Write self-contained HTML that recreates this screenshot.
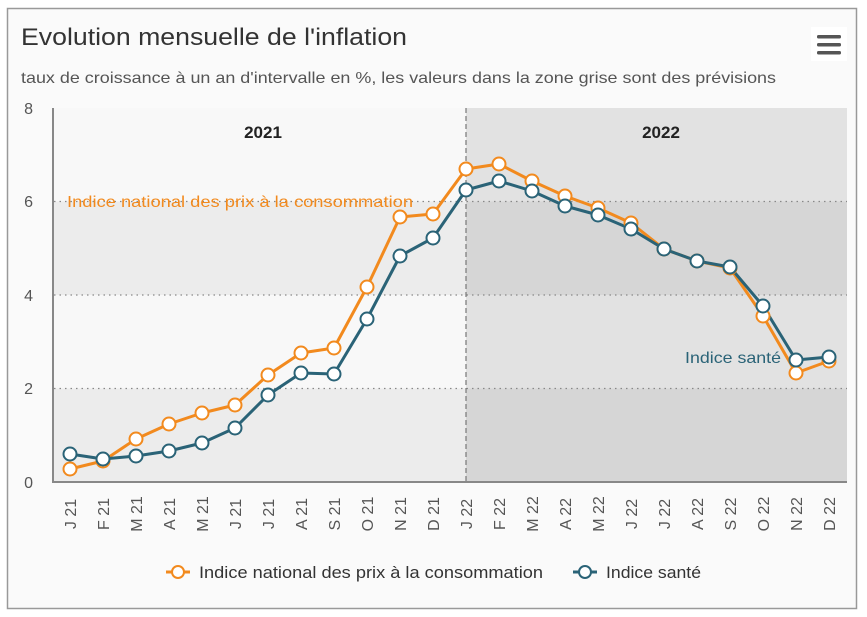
<!DOCTYPE html>
<html><head><meta charset="utf-8"><style>
body{margin:0;background:#fff;}
svg{display:block;font-family:"Liberation Sans","DejaVu Sans",sans-serif;}
</style></head><body>
<svg width="867" height="617" xmlns="http://www.w3.org/2000/svg">
<rect x="7.5" y="8.5" width="849" height="600" fill="#fafafa" stroke="#999" stroke-width="1.5"/>
<text x="21" y="45" font-size="24" fill="#333" textLength="386" lengthAdjust="spacingAndGlyphs">Evolution mensuelle de l'inflation</text>
<text x="21" y="83" font-size="16" fill="#555" textLength="755" lengthAdjust="spacingAndGlyphs">taux de croissance à un an d'intervalle en %, les valeurs dans la zone grise sont des prévisions</text>
<rect x="811" y="27" width="36" height="34" fill="#fff"/>
<rect x="817" y="35" width="24" height="3.5" rx="1.5" fill="#555"/>
<rect x="817" y="43" width="24" height="3.5" rx="1.5" fill="#555"/>
<rect x="817" y="51" width="24" height="3.5" rx="1.5" fill="#555"/>
<rect x="54" y="108" width="412" height="93.5" fill="#f8f8f8"/>
<rect x="54" y="201.5" width="412" height="93.5" fill="#ececec"/>
<rect x="54" y="295" width="412" height="93.5" fill="#f8f8f8"/>
<rect x="54" y="388.5" width="412" height="93.5" fill="#ececec"/>
<rect x="466" y="108" width="381" height="93.5" fill="#e2e2e2"/>
<rect x="466" y="201.5" width="381" height="93.5" fill="#d6d6d6"/>
<rect x="466" y="295" width="381" height="93.5" fill="#e2e2e2"/>
<rect x="466" y="388.5" width="381" height="93.5" fill="#d6d6d6"/>
<g stroke="#888" stroke-dasharray="1.5,4" stroke-width="1.2">
<line x1="54" x2="847" y1="201.5" y2="201.5"/>
<line x1="54" x2="847" y1="295" y2="295"/>
<line x1="54" x2="847" y1="388.5" y2="388.5"/>
</g>
<line x1="466" x2="466" y1="108" y2="482" stroke="#777" stroke-dasharray="5,3" stroke-width="1.2"/>
<line x1="53" x2="53" y1="108" y2="483" stroke="#888" stroke-width="2"/>
<line x1="53" x2="847" y1="482" y2="482" stroke="#888" stroke-width="2"/>
<g font-size="16" fill="#555" text-anchor="end">
<text x="33" y="114">8</text><text x="33" y="207">6</text><text x="33" y="301">4</text><text x="33" y="394">2</text><text x="33" y="488">0</text>
</g>
<text x="263" y="138" font-size="17" font-weight="bold" fill="#222" text-anchor="middle">2021</text>
<text x="661" y="138" font-size="17" font-weight="bold" fill="#222" text-anchor="middle">2022</text>
<text x="67" y="207" font-size="16" fill="#f28a1e" textLength="346" lengthAdjust="spacingAndGlyphs">Indice national des prix à la consommation</text>
<text x="685" y="363" font-size="16" fill="#2a6377" textLength="96" lengthAdjust="spacingAndGlyphs">Indice santé</text>
<g id="lbl" font-size="16" fill="#555"></g>
<polyline fill="none" stroke="#f28a1e" stroke-width="3" stroke-linejoin="round" points="70,469 103,461 136,439 169,424 202,413 235,405 268,375 301,353 334,348 367,287 400,217 433,214 466,169 499,164 532,181 565,196 598,208 631,223 664,249 697,261 730,268 763,316 796,373 829,361"/>
<polyline fill="none" stroke="#2a6377" stroke-width="3" stroke-linejoin="round" points="70,454 103,459 136,456 169,451 202,443 235,428 268,395 301,373 334,374 367,319 400,256 433,238 466,190 499,181 532,191 565,206 598,215 631,229 664,249 697,261 730,267 763,306 796,360 829,357"/>
<g id="dots"></g>
<line x1="166" x2="190" y1="572" y2="572" stroke="#f28a1e" stroke-width="3"/>
<circle cx="178" cy="572" r="6" fill="#fff" stroke="#f28a1e" stroke-width="2"/>
<text x="199" y="578" font-size="17" fill="#333" textLength="344" lengthAdjust="spacingAndGlyphs">Indice national des prix à la consommation</text>
<line x1="573" x2="597" y1="572" y2="572" stroke="#2a6377" stroke-width="3"/>
<circle cx="585" cy="572" r="6" fill="#fff" stroke="#2a6377" stroke-width="2"/>
<text x="606" y="578" font-size="17" fill="#333" textLength="95" lengthAdjust="spacingAndGlyphs">Indice santé</text>
</svg>
<script>
var o=[469,461,439,424,413,405,375,353,348,287,217,214,169,164,181,196,208,223,249,261,268,316,373,361];
var b=[454,459,456,451,443,428,395,373,374,319,256,238,190,181,191,206,215,229,249,261,267,306,360,357];
var m=["J","F","M","A","M","J","J","A","S","O","N","D"];
var ns="http://www.w3.org/2000/svg",d=document.getElementById("dots"),l=document.getElementById("lbl");
for(var i=0;i<24;i++){var x=70+33*i;
[[o,"#f28a1e"],[b,"#2a6377"]].forEach(function(s){var c=document.createElementNS(ns,"circle");c.setAttribute("cx",x);c.setAttribute("cy",s[0][i]);c.setAttribute("r",6.5);c.setAttribute("fill","#fff");c.setAttribute("stroke",s[1]);c.setAttribute("stroke-width",2);d.appendChild(c);});
var t=document.createElementNS(ns,"text");t.setAttribute("transform","translate("+(x+6)+",514) rotate(-90)");t.setAttribute("text-anchor","middle");t.textContent=m[i%12]+" "+(i<12?"21":"22");l.appendChild(t);}
</script>
</body></html>
